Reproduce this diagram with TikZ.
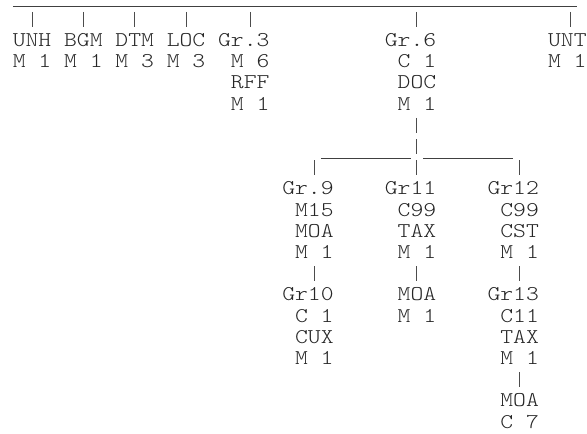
\documentclass[tikz,border=0pt]{standalone}
\usepackage{fontspec}
\newfontfamily\cour{lmmonolt10-regular.otf}[FakeStretch=1.164]
\begin{document}
\begin{tikzpicture}[x=12.83pt,y=-21.2pt,
  lbl/.style={anchor=base west,inner sep=0pt,outer sep=0pt,
    font=\cour\fontsize{21pt}{21pt}\selectfont,text=black!85},
  bar/.style={line width=1pt,draw=black!70},
  rule/.style={line width=1pt,draw=black!75}]
\useasboundingbox (0,0.1132) rectangle (45.752,20.538);
% text lines: column / row / text
\foreach \c/\r/\t in {
  1/2/UNH, 5/2/BGM, 9/2/DTM, 13/2/LOC, 17/2/Gr.3, 30/2/Gr.6, 42.72/2/UNT,
  1/3/M 1, 5/3/M 1, 9/3/M 3, 13/3/M 3, 18/3/M 6, 31/3/C 1, 42.72/3/M 1,
  18/4/RFF, 31/4/DOC,
  18/5/M 1, 31/5/M 1,
  22/9/Gr.9, 30/9/Gr11, 38/9/Gr12,
  23/10/M15, 31/10/C99, 39/10/C99,
  23/11/MOA, 31/11/TAX, 39/11/CST,
  23/12/M 1, 31/12/M 1, 39/12/M 1,
  22/14/Gr10, 31/14/MOA, 38/14/Gr13,
  23/15/C 1, 31/15/M 1, 39/15/C11,
  23/16/CUX, 39/16/TAX,
  23/17/M 1, 39/17/M 1,
  39/19/MOA,
  39/20/C 7}
  {\node[lbl] (t-\r-\t) at (\c,\r+0.302) {\t};}
% vertical connectors: column / row
\foreach \c/\r in {2/1,6/1,10/1,14/1,19/1,32/1,44/1,
  32/6,32/7,24/8,32/8,40/8,24/13,32/13,40/13,40/18}
  {\coordinate (bt-\c-\r) at (\c+0.5,\r-0.33);
   \coordinate (bb-\c-\r) at (\c+0.5,\r+0.38);
   \draw[bar] (bt-\c-\r) -- (bb-\c-\r);}
% horizontal rules
\coordinate (topL) at (1,0.443);
\coordinate (topR) at (45,0.443);
\draw[rule] (topL) -- (topR);
\coordinate (midLa) at (25,7.566);
\coordinate (midLb) at (32,7.566);
\coordinate (midRa) at (33,7.566);
\coordinate (midRb) at (40,7.566);
\draw[rule] (midLa) -- (midLb);
\draw[rule] (midRa) -- (midRb);
\end{tikzpicture}
\end{document}
